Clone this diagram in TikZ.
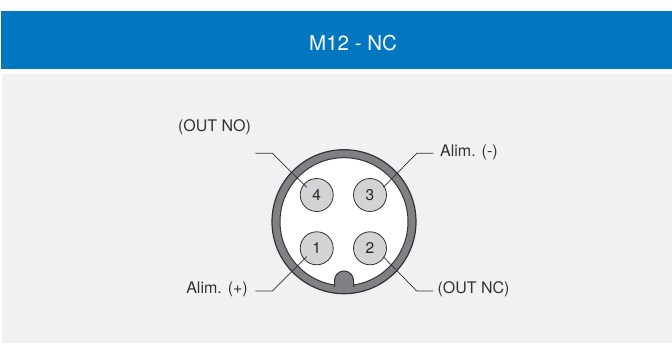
\documentclass[tikz,border=0pt]{standalone}
\usepackage{fontspec}
\setmainfont{TeX Gyre Heros}
\definecolor{band}{HTML}{0077BF}
\definecolor{panel}{HTML}{F0F1F3}
\definecolor{ringgray}{HTML}{808184}
\definecolor{ringline}{HTML}{323234}
\definecolor{pingray}{HTML}{D2D3D4}
\definecolor{txt}{HTML}{333335}
\tikzset{
  x=1pt,y=-1pt,
  pin/.style={circle,draw=ringline,line width=0.8pt,fill=pingray,minimum size=33pt,inner sep=0pt,text=black!85,font=\fontsize{15.5}{18}\selectfont},
  leader/.style={draw=ringline,line width=0.7pt},
  lbl/.style={text=txt,font=\fontsize{16}{19}\selectfont,inner sep=0pt},
  ringout/.style={draw=ringline,fill=ringgray,line width=1.2pt},
  ringin/.style={draw=ringline,fill=white,line width=1pt},
}
\begin{document}
\begin{tikzpicture}
\useasboundingbox (0,0) rectangle (672,344);
\fill[white] (0,0) rectangle (672,344);
\fill[band] (1,11) rectangle (672,69);
\fill[panel] (2,74) rectangle (672,343);
\node[text=white,font=\fontsize{20.5}{24}\selectfont,inner sep=0pt] (title) at (353,43.5) {M12 - NC};
\draw[ringout] (344,221.7) circle (72);
\draw[ringin] (344,221.7) circle (64);
\draw[ringline,fill=ringgray,line width=1pt] (334.5,287) -- (334.5,280.5) arc (180:360:9.5) -- (353.5,287);
\fill[ringgray] (335,285) rectangle (353,288.5);
\node[pin] (p4) at (316.7,195) {4};
\node[pin] (p3) at (370,195) {3};
\node[pin] (p1) at (316.7,248.3) {1};
\node[pin] (p2) at (370,248.3) {2};
\coordinate (e4) at (306.7,187.3);
\coordinate (e3) at (383.3,187.3);
\coordinate (e1) at (306.7,256.7);
\coordinate (e2) at (383.3,256.7);
\coordinate (b4) at (272.3,153.3);
\coordinate (b3) at (416.7,153.3);
\coordinate (b1) at (272.3,291);
\coordinate (b2) at (416.7,291);
\coordinate (s4) at (255.3,153.3);
\coordinate (s3) at (433.3,153.3);
\coordinate (s1) at (255.3,291);
\coordinate (s2) at (433.3,291);
\draw[leader] (s4) -- (b4) -- (e4);
\draw[leader] (s3) -- (b3) -- (e3);
\draw[leader] (s1) -- (b1) -- (e1);
\draw[leader] (s2) -- (b2) -- (e2);
\node[lbl] (l4) at (214.5,127.2) {(OUT NO)};
\node[lbl,anchor=west] (l3) at (440,152.2) {Alim. (-)};
\node[lbl,anchor=east] (l1) at (248,289.3) {Alim. (+)};
\node[lbl,anchor=west] (l2) at (437.3,289.3) {(OUT NC)};
\end{tikzpicture}
\end{document}
